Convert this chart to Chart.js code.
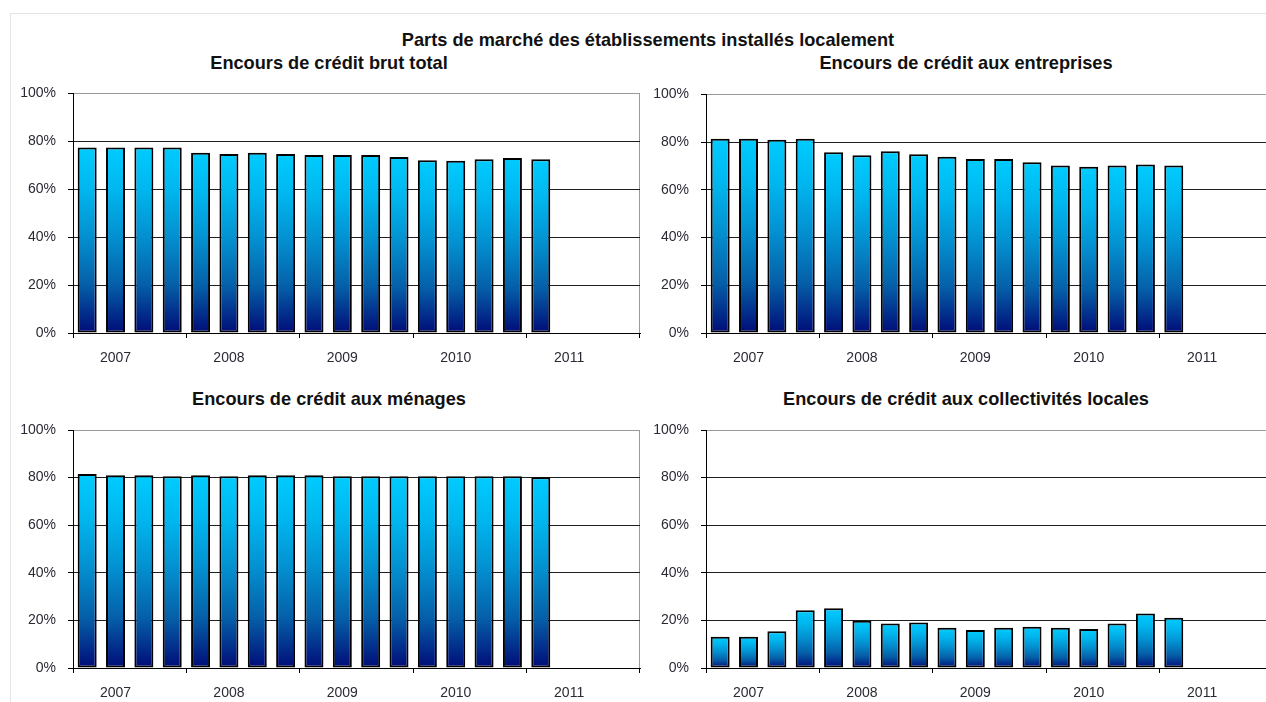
<!DOCTYPE html>
<html lang="fr">
<head>
<meta charset="utf-8">
<title>Parts de marché des établissements installés localement</title>
<script src="https://cdn.jsdelivr.net/npm/chart.js@4/dist/chart.umd.min.js"></script>
<style>
  html, body { margin: 0; padding: 0; background: #fff; }
  body { width: 1266px; height: 702px; position: relative; overflow: hidden; font-family: "Liberation Sans", Arial, sans-serif; }
  .frame { position: absolute; left: 10px; top: 13px; right: -2px; bottom: -2px; border-left: 1px solid #e4e4e4; border-top: 1px solid #e4e4e4; }
  .title { position: absolute; transform: translateX(-50%); white-space: nowrap; font-weight: bold; font-size: 18.2px; line-height: 20px; color: #111; }
  .panel { position: absolute; }
</style>
</head>
<body>
<div class="frame"></div>

<div class="title" style="left:648px; top:30px;">Parts de marché des établissements installés localement</div>
<div class="title" style="left:329px; top:53px;">Encours de crédit brut total</div>
<div class="title" style="left:966px; top:53px;">Encours de crédit aux entreprises</div>
<div class="title" style="left:329px; top:389px;">Encours de crédit aux ménages</div>
<div class="title" style="left:966px; top:389px;">Encours de crédit aux collectivités locales</div>

<div class="panel" style="left:0px; top:83px; width:660px; height:301px;"><canvas id="brutChart"></canvas></div>
<div class="panel" style="left:633px; top:84px; width:660px; height:300px;"><canvas id="entreprisesChart"></canvas></div>
<div class="panel" style="left:0px; top:420px; width:660px; height:299px;"><canvas id="menagesChart"></canvas></div>
<div class="panel" style="left:633px; top:420px; width:660px; height:299px;"><canvas id="collectivitesChart"></canvas></div>

<script>
// quarterly axis, 2007 to 2011 (2011 only has its first quarter filled)
const quarters = [
  'T1 2007', 'T2 2007', 'T3 2007', 'T4 2007',
  'T1 2008', 'T2 2008', 'T3 2008', 'T4 2008',
  'T1 2009', 'T2 2009', 'T3 2009', 'T4 2009',
  'T1 2010', 'T2 2010', 'T3 2010', 'T4 2010',
  'T1 2011', 'T2 2011', 'T3 2011', 'T4 2011'
];
const yearLabels = ['2007', '2008', '2009', '2010', '2011'];

// market shares, in %
const brutTotal = [77.5, 77.5, 77.5, 77.5, 75.3, 74.7, 75.3, 74.7, 74.3, 74.3, 74.3, 73.5, 72.1, 71.9, 72.5, 73.1, 72.5];
const entreprises = [81.4, 81.4, 81.0, 81.4, 75.8, 74.5, 76.2, 74.9, 73.9, 73.0, 73.0, 71.6, 70.2, 69.7, 70.2, 70.6, 70.2];
const menages = [81.5, 81.0, 81.0, 80.6, 81.0, 80.6, 81.0, 81.0, 81.0, 80.6, 80.6, 80.6, 80.6, 80.6, 80.6, 80.6, 80.1];
const collectivites = [13.1, 13.1, 15.4, 24.3, 25.1, 19.9, 18.7, 19.1, 16.9, 16.0, 16.9, 17.3, 16.9, 16.4, 18.7, 22.9, 21.1];

const textClr = '#2a2a35';
const tickFont = { family: '"Liberation Sans", Arial, sans-serif', size: 14 };

// cyan to navy gradient, one per bar
function barFill(context) {
  const chart = context.chart;
  const { ctx, chartArea, scales } = chart;
  if (!chartArea || context.type !== 'data') return '#00ccff';
  const top = scales.y.getPixelForValue(context.raw);
  const bottom = scales.y.getPixelForValue(0);
  const g = ctx.createLinearGradient(0, top, 0, bottom);
  g.addColorStop(0, '#00ccff');
  g.addColorStop(0.23, '#00b6ee');
  g.addColorStop(0.48, '#0390d0');
  g.addColorStop(0.74, '#055fa8');
  g.addColorStop(1, '#000c78');
  return g;
}

function makeChart(canvasId, values, padTop) {
  const ctx = document.getElementById(canvasId).getContext('2d');
  return new Chart(ctx, {
    type: 'bar',
    data: {
      labels: quarters,
      datasets: [{
        data: values,
        backgroundColor: barFill,
        borderColor: '#000',
        borderWidth: 2,
        borderSkipped: false,
        barPercentage: 0.67,
        categoryPercentage: 1
      }]
    },
    options: {
      responsive: true,
      maintainAspectRatio: false,
      animation: false,
      layout: { padding: { top: padTop, right: 20, bottom: 0, left: 0 } },
      plugins: { legend: { display: false }, tooltip: { enabled: false } },
      scales: {
        x: {
          offset: true,
          afterFit: scale => { scale.height = 51; },
          border: { display: true, color: '#000', width: 1 },
          grid: {
            offset: true,
            drawOnChartArea: true,
            tickLength: 5,
            // only the right frame edge shows inside the plot
            color: c => (c.index === undefined ? '#9a9a9a' : 'rgba(0,0,0,0)'),
            tickColor: c => (c.index === undefined || c.index % 4 === 0 ? '#000' : 'rgba(0,0,0,0)')
          },
          ticks: {
            autoSkip: false,
            maxRotation: 0,
            padding: 12,
            color: textClr,
            font: tickFont,
            callback: (v, i) => (i % 4 === 1 ? yearLabels[(i - 1) / 4] : '')
          }
        },
        y: {
          min: 0,
          max: 100,
          afterFit: scale => {
            scale.width = 73;
            // the layout padding already leaves room for the 100% label
            scale.paddingTop = 0;
            scale.paddingBottom = 0;
          },
          border: { display: true, color: '#000', width: 1 },
          grid: {
            tickLength: 5,
            tickColor: '#000',
            color: c => (c.tick && c.tick.value === 100 ? '#9a9a9a' : '#1e1e1e'),
            lineWidth: 1
          },
          ticks: {
            stepSize: 20,
            padding: 12,
            color: textClr,
            font: tickFont,
            callback: v => v + '%'
          }
        }
      }
    }
  });
}

window.brutChart = makeChart('brutChart', brutTotal, 10.5);
window.entreprisesChart = makeChart('entreprisesChart', entreprises, 10.5);
window.menagesChart = makeChart('menagesChart', menages, 10);
window.collectivitesChart = makeChart('collectivitesChart', collectivites, 10);
</script>
</body>
</html>
